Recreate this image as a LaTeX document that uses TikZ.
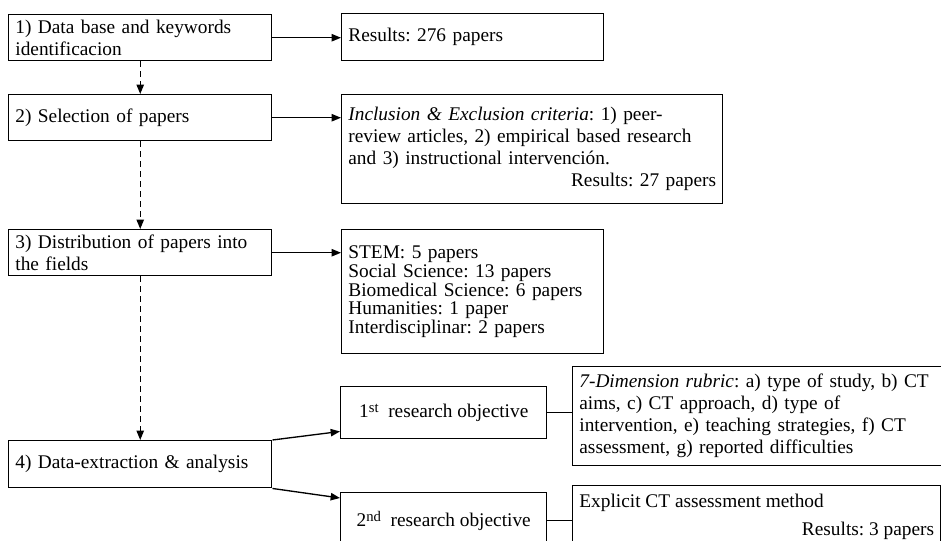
\documentclass[tikz,border=0pt]{standalone}
\usepackage{fontspec}
\setmainfont{Liberation Serif}
\usepackage{tikz}
\usetikzlibrary{calc,arrows.meta,positioning}
\frenchspacing
\newcommand{\ordsup}[1]{\raisebox{.55ex}{\fontsize{11}{11}\selectfont #1}}

\begin{document}
\begin{tikzpicture}[x=0.75pt,y=-0.75pt,font=\fontsize{14.5}{16.5}\selectfont,
	box/.style={draw,line width=1.1pt,anchor=north west,inner xsep=5pt,inner ysep=2pt,align=left},
	arr/.style={line width=1pt,-{Triangle[length=7pt,width=5.5pt]}},
	darr/.style={arr,dash pattern=on 4.5pt off 3pt}]
		\useasboundingbox (0,0) rectangle (941,541);
		\clip (0,0) rectangle (941,541);
		% left column
		\node[box,minimum width=197.25pt,minimum height=34.5pt,text width=187.25pt] (base) at (8,14) {1) Data base and keywords\\identificacion};
		\node[box,minimum width=197.25pt,minimum height=34.5pt,text width=187.25pt] (sel) at (8,94) {2) Selection of papers};
		\node[box,minimum width=197.25pt,minimum height=34.5pt,text width=187.25pt] (dist) at (8,229) {3) Distribution of papers into\\the fields};
		\node[box,minimum width=197.25pt,minimum height=35.25pt,text width=187.25pt] (extr) at (8,440) {4) Data-extraction \& analysis};
		% right column
		\node[box,minimum width=196.5pt,minimum height=35.25pt,text width=186.5pt] (res) at (341,13) {Results: 276 papers};
		\node[box,minimum width=285.75pt,minimum height=81.75pt,text width=275.75pt] (crit) at (341,94) {\textit{Inclusion \& Exclusion criteria}: 1) peer-\\review articles, 2) empirical based research\\and 3) instructional intervención.\\\mbox{}\hfill Results: 27 papers};
		\node[box,minimum width=196.5pt,minimum height=93pt,text width=186.5pt,font=\fontsize{14.5}{14}\selectfont] (fields) at (341,229) {STEM: 5 papers\\Social Science: 13 papers\\Biomedical Science: 6 papers\\Humanities: 1 paper\\Interdisciplinar: 2 papers};
		\begin{scope}%objectives
		\node[box,minimum width=154.5pt,minimum height=39pt,align=center] (obj1) at (340,386) {1\ordsup{st}\enspace research objective};
		\node[box,minimum width=154.5pt,minimum height=42pt,align=center] (obj2) at (340,492) {2\ordsup{nd}\enspace research objective};
		\node[box,minimum width=287.25pt,minimum height=74.25pt,text width=277.25pt] (rubric) at (572,366) {\textit{7-Dimension rubric}: a) type of study, b) CT\\aims, c) CT approach, d) type of\\intervention, e) teaching strategies, f) CT\\assessment, g) reported difficulties};
		\node[box,inner ysep=6.5pt] (expl) at (572,485) {\parbox[c][48pt][t]{266pt}{Explicit CT assessment method\\[4.5pt]\mbox{}\hfill Results: 3 papers}};
		\end{scope}
		% connectors
		\draw[darr] (base) -- (sel);
		\draw[darr] (sel) -- (dist);
		\draw[darr] (dist) -- (extr);
		\draw[arr] (base.east) -- (base.east -| res.west);
		\draw[arr] (sel.east) -- (sel.east -| crit.west);
		\draw[arr] (dist.east) -- (dist.east -| fields.west);
		\draw[arr] (extr.north east) -- ($(obj1.south west)+(0,-8)$);
		\draw[arr] (extr.south east) -- ($(obj2.north west)+(0,6)$);
		\draw[line width=1pt] (obj1.east) -- (obj1.east -| rubric.west);
		\draw[line width=1pt] (obj2.east) -- (obj2.east -| expl.west);
\end{tikzpicture}
\end{document}
